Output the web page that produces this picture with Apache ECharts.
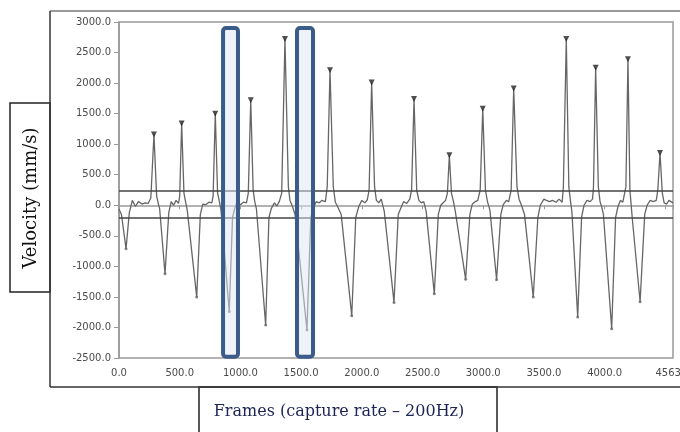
<!DOCTYPE html>
<html>
<head>
<meta charset="utf-8">
<style>
	html, body { margin: 0; padding: 0; background: #fff; }
	#chart { width: 680px; height: 432px; }
</style>
<script src="https://cdn.jsdelivr.net/npm/echarts@6/dist/echarts.min.js"></script>
</head>
<body>
<div id="chart"></div>
<script>
// velocity trace: [frame, mm/s]
const trace = [
	[0, -60], [20, -150], [58, -710], [85, -120], [110, 80], [135, -20], [160, 60], [190, 20],
	[215, 40], [240, 30], [262, 120], [288, 1160], [310, 150], [322, 40], [335, -60], [379, -1120],
	[410, -120], [430, 60], [450, 0], [470, 80], [490, 30], [500, 150], [516, 1340], [535, 200],
	[548, 60], [562, -80], [640, -1500], [670, -150], [690, 20], [715, 10], [740, 50], [765, 40],
	[775, 150], [793, 1500], [812, 200], [825, 80], [840, -80], [908, -1740], [935, -200], [955, -40],
	[975, 60], [1000, 10], [1025, 50], [1050, 40], [1065, 200], [1085, 1720], [1105, 250], [1118, 60],
	[1132, -60], [1208, -1960], [1235, -200], [1255, -50], [1280, 40], [1300, -10], [1320, 60], [1340, 200],
	[1367, 2720], [1395, 300], [1408, 80], [1425, 0], [1450, -150], [1548, -2040], [1580, -200], [1600, -40],
	[1625, 60], [1650, 40], [1670, 80], [1700, 60], [1715, 300], [1738, 2210], [1765, 300], [1782, 50],
	[1800, -20], [1830, -150], [1917, -1810], [1950, -200], [1975, -20], [2000, 80], [2025, 40], [2045, 90],
	[2060, 250], [2081, 2010], [2105, 300], [2120, 80], [2140, 40], [2160, 100], [2185, -100], [2265, -1590],
	[2300, -150], [2325, -30], [2345, 60], [2370, 30], [2395, 100], [2410, 250], [2430, 1740], [2452, 250],
	[2470, 80], [2490, 40], [2510, 60], [2530, -100], [2597, -1450], [2630, -150], [2650, 0], [2670, 40],
	[2690, 80], [2705, 200], [2721, 820], [2738, 200], [2755, 60], [2770, -100], [2855, -1210], [2890, -150],
	[2910, 20], [2935, 60], [2955, 80], [2975, 250], [2996, 1580], [3018, 250], [3035, 60], [3055, -80],
	[3110, -1220], [3145, -150], [3165, 10], [3190, 80], [3210, 60], [3230, 250], [3251, 1910], [3278, 300],
	[3295, 100], [3315, 0], [3340, -150], [3412, -1500], [3450, -200], [3470, 0], [3500, 100], [3520, 80],
	[3545, 60], [3570, 80], [3600, 50], [3625, 100], [3650, 50], [3660, 300], [3684, 2720], [3705, 300],
	[3718, 80], [3730, -100], [3778, -1830], [3810, -200], [3830, 0], [3855, 80], [3880, 60], [3900, 100],
	[3908, 300], [3926, 2250], [3948, 300], [3962, 60], [3975, -20], [3990, -150], [4058, -2020], [4090, -200],
	[4110, -20], [4130, 80], [4150, 50], [4165, 80], [4175, 300], [4192, 2390], [4208, 250], [4217, 40],
	[4227, -200], [4292, -1580], [4330, -150], [4350, 0], [4375, 80], [4400, 60], [4425, 80], [4438, 250],
	[4456, 855], [4475, 200], [4490, 40], [4510, 20], [4530, 80], [4563, 40]
]
const peakFrames = [288, 516, 793, 1085, 1367, 1738, 2081, 2430, 2721, 2996, 3251, 3684, 3926, 4192, 4456]
const peakValues = [1160, 1340, 1500, 1720, 2720, 2210, 2010, 1740, 820, 1580, 1910, 2720, 2250, 2390, 855]
const troughFrames = [58, 379, 640, 908, 1208, 1548, 1917, 2265, 2597, 2855, 3110, 3412, 3778, 4058, 4292]
const troughValues = [-710, -1120, -1500, -1740, -1960, -2040, -1810, -1590, -1450, -1210, -1220, -1500, -1830, -2020, -1580]
const thresholds = [240, -200]
// highlighted frames: [from, to, top, bottom]
const boxes = [
	[857, 980, 2900, -2480],
	[1466, 1598, 2900, -2480],
]
const xMax = 4563

const myChart = echarts.init(document.getElementById('chart'))
const tickLabel = {
	color: '#4a4a4a',
	fontSize: 10,
	fontFamily: 'DejaVu Sans',
}
const options = {
	animation: false,
	grid: {
		left: 119,
		right: 7,
		top: 22,
		bottom: 74,
		containLabel: false,
		outerBoundsMode: 'none',
		show: true,
		borderColor: '#999',
		borderWidth: 1.5,
	},
	xAxis: {
		type: 'value',
		min: 0,
		max: xMax,
		interval: 500,
		splitLine: { show: false },
		axisLine: { lineStyle: { color: '#999', width: 1.5 } },
		axisTick: { length: 4, lineStyle: { color: '#999' } },
		axisLabel: {
			...tickLabel,
			margin: 10,
			showMaxLabel: true,
			hideOverlap: false,
			formatter: (v) => (v === 4500 ? '' : v.toFixed(1)),
		},
	},
	yAxis: {
		type: 'value',
		min: -2500,
		max: 3000,
		interval: 500,
		splitLine: { show: false },
		axisLine: { show: true, lineStyle: { color: '#999', width: 1.5 } },
		axisTick: { show: true, length: 5, lineStyle: { color: '#999' } },
		axisLabel: {
			...tickLabel,
			margin: 8,
			formatter: (v) => v.toFixed(1),
		},
	},
	series: [
		{
			type: 'line',
			data: trace,
			showSymbol: false,
			lineStyle: { color: '#666', width: 1.3 },
			z: 3,
			markLine: {
				silent: true,
				symbol: 'none',
				label: { show: false },
				lineStyle: { color: '#444', width: 1.5, type: 'solid' },
				data: thresholds.map((t) => ({ yAxis: t })),
			},
		},
		{
			type: 'scatter',
			data: troughFrames.map((f, i) => [f, troughValues[i]]),
			symbol: 'circle',
			symbolSize: 3,
			itemStyle: { color: '#666' },
			z: 4,
		},
		{
			type: 'scatter',
			data: peakFrames.map((f, i) => [f, peakValues[i]]),
			symbol: 'triangle',
			symbolRotate: 180,
			symbolSize: 6,
			itemStyle: { color: '#222' },
			z: 4,
		},
		{
			type: 'custom',
			data: boxes,
			encode: { x: [0, 1], y: [2, 3] },
			clip: false,
			z: 5,
			renderItem: (params, api) => {
				const a = api.coord([api.value(0), api.value(2)])
				const b = api.coord([api.value(1), api.value(3)])
				return {
					type: 'rect',
					shape: { x: a[0], y: a[1], width: b[0] - a[0], height: b[1] - a[1], r: 3 },
					style: { fill: 'rgba(220,231,244,0.5)', stroke: '#3b5b8a', lineWidth: 4 },
				}
			},
		},
	],
	graphic: [
		// outer frame
		{ type: 'line', shape: { x1: 50, y1: 11, x2: 680, y2: 11 }, style: { stroke: '#999', lineWidth: 2 }, z: 1 },
		{ type: 'line', shape: { x1: 50, y1: 11, x2: 50, y2: 387 }, style: { stroke: '#333', lineWidth: 1.5 }, z: 1 },
		{ type: 'line', shape: { x1: 50, y1: 387, x2: 680, y2: 387 }, style: { stroke: '#333', lineWidth: 1.5 }, z: 1 },
		// y title box
		{
			type: 'group',
			z: 10,
			children: [
				{ type: 'rect', shape: { x: 10, y: 103, width: 40, height: 189 }, style: { fill: '#fff', stroke: '#222', lineWidth: 1.5 } },
				{
					type: 'text',
					x: 31,
					y: 198,
					rotation: Math.PI / 2,
					style: {
						text: 'Velocity (mm/s)',
						fill: '#111',
						font: '18px "DejaVu Serif"',
						align: 'center',
						verticalAlign: 'middle',
					},
				},
			],
		},
		// x title box
		{
			type: 'group',
			z: 10,
			children: [
				{ type: 'rect', shape: { x: 199, y: 387, width: 298, height: 60 }, style: { fill: '#fff', stroke: '#222', lineWidth: 1.5 } },
				{
					type: 'text',
					x: 339,
					y: 412,
					style: {
						text: 'Frames (capture rate – 200Hz)',
						fill: '#1c2356',
						font: '16px "DejaVu Serif"',
						align: 'center',
						verticalAlign: 'middle',
					},
				},
			],
		},
	],
}
myChart.setOption(options)
</script>
</body>
</html>
